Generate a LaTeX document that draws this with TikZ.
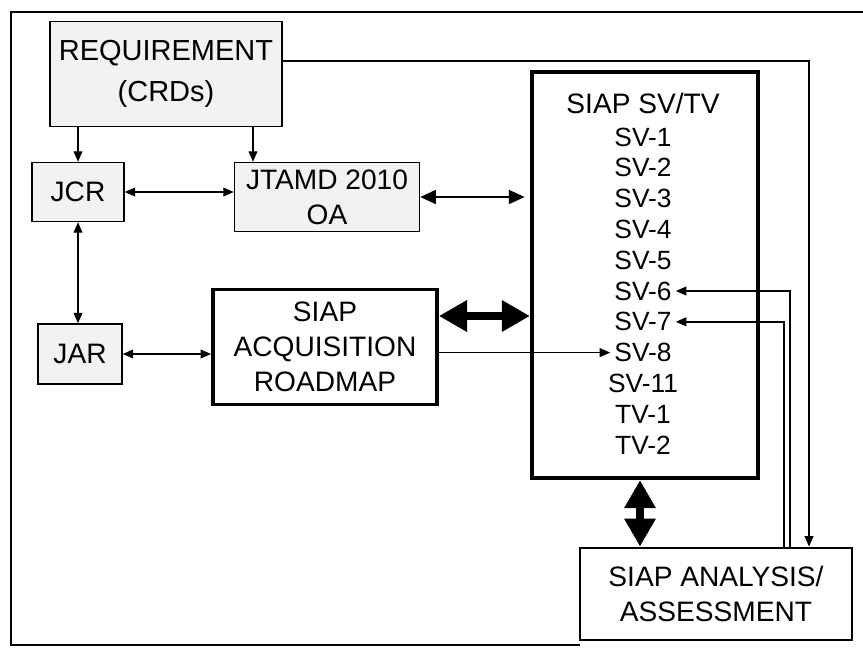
\documentclass[tikz,border=0pt]{standalone}
\usepackage{fontspec}
\setmainfont{Liberation Sans}
\usetikzlibrary{arrows.meta}

\begin{document}
\begin{tikzpicture}[x=0.02cm, y=-0.02cm, line width=0.8pt,
  >={Triangle[length=6pt,width=5pt]},
  every node/.style={font=\fontsize{16}{20}\selectfont},
  graybox/.style={draw, fill=black!5, align=center},
  whitebox/.style={draw, align=center},
  item/.style={font=\fontsize{15}{18}\selectfont, inner sep=2pt},
  midarrow/.style={line width=1pt, {Triangle[length=9pt,width=8pt]}-{Triangle[length=9pt,width=8pt]}},
  bigarrow/.style={line width=4.5pt, {Triangle[length=16pt,width=17pt]}-{Triangle[length=16pt,width=17pt]}}]
  \useasboundingbox (0,0) rectangle (863,647);
  % outer frame
  \draw (863,12) -- (11,12) -- (11,645) -- (580,645);

  \node[graybox, minimum width=4.64cm, minimum height=2.1cm, font=\fontsize{16.5}{23}\selectfont] (req) at (166,74) {REQUIREMENT\\(CRDs)};
  \node[graybox, minimum width=1.84cm, minimum height=1.18cm] (jcr) at (78,192) {JCR};
  \node[graybox, minimum width=3.7cm, minimum height=1.38cm] (jtamd) at (327,197) {JTAMD 2010\\OA};
  \node[graybox, minimum width=1.68cm, minimum height=1.2cm] (jar) at (80,354) {JAR};
  \node[whitebox, line width=2.2pt, minimum width=4.48cm, minimum height=2.3cm] (road) at (325,347) {SIAP\\ACQUISITION\\ROADMAP};
  \node[draw, line width=2.4pt, minimum width=4.52cm, minimum height=8.12cm] (svtv) at (645,275) {};
  \node[whitebox, line width=1.6pt, minimum width=5.44cm, minimum height=1.84cm] (ana) at (716,594) {SIAP ANALYSIS/\\ASSESSMENT};

  % views listed in the SV/TV box
  \node (svtitle) at (643,103) {SIAP SV/TV};
  \foreach \lbl/\nm [count=\k from 0] in {SV-1/sv1, SV-2/sv2, SV-3/sv3, SV-4/sv4, SV-5/sv5, SV-6/sv6, SV-7/sv7, SV-8/sv8, SV-11/sv11, TV-1/tv1, TV-2/tv2}
    \node[item] (\nm) at (643,{137+30.8*\k}) {\lbl};

  \coordinate (a2) at (253,0);
  \coordinate (bigy) at (0,316);
  \coordinate (vx) at (640,0);
  \coordinate (rq) at (809,61);
  \coordinate (f6) at (790,0);
  \coordinate (f7) at (784,0);

  \draw[->] (req.south -| jcr) -- (jcr);
  \draw[->] (req.south -| a2) -- (jtamd.north -| a2);
  \draw[<->] (jcr.east) -- (jcr.east -| jtamd.west);
  \draw[midarrow, shorten >=3pt] (jtamd.east) -- (jtamd.east -| svtv.west);
  \draw[<->] (jcr) -- (jcr |- jar.north);
  \draw[<->] (jar.east) -- (jar.east -| road.west);
  \draw[bigarrow] (road.east |- bigy) -- (svtv.west |- bigy);
  \draw[->] (road.east |- sv8) -- (sv8.west);
  \draw[bigarrow] (svtv.south -| vx) -- (ana.north -| vx);
  \draw[->] (req.east |- rq) -- (rq) -- (rq |- ana.north);
  \draw[->] (f6 |- ana.north) |- (sv6.east);
  \draw[->] (f7 |- ana.north) |- (sv7.east);
\end{tikzpicture}
\end{document}
